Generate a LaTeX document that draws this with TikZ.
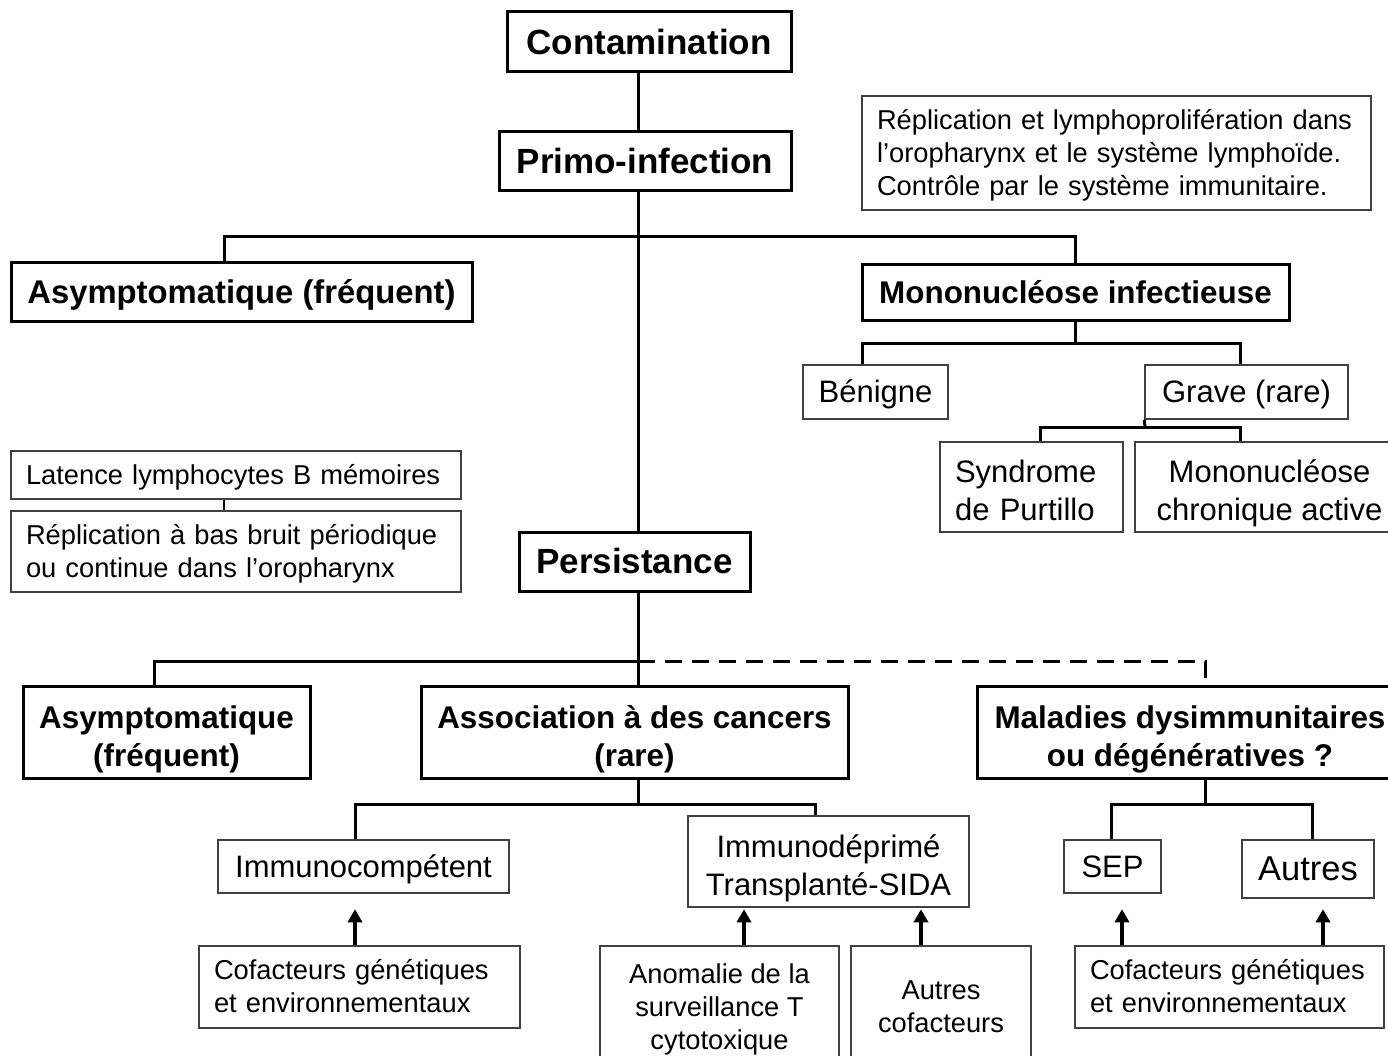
\documentclass[tikz,border=0pt]{standalone}
\usepackage{fontspec}
\setmainfont{Liberation Sans}
\usetikzlibrary{arrows.meta}
\newcommand\lst{\rule[-0.212em]{0pt}{1.117em}}
\newcommand\lbeg{\rule{0pt}{1.17em}}
\newcommand\lbegs{\rule{0pt}{1.14em}}
\begin{document}
\begin{tikzpicture}[x=1pt,y=-1pt,
  every node/.style={execute at begin node=\lst,execute at end node=\lst},
  boldbox/.style={draw=black,line width=3pt,inner sep=0pt,align=center},
  thinbox/.style={draw=black!75,line width=1.5pt,inner sep=0pt,align=center},
  leftbox/.style={thinbox,align=left,inner xsep=15pt},
  bigb/.style={font=\fontsize{35}{42}\selectfont\bfseries},
  medb/.style={font=\fontsize{31.4}{38}\selectfont\bfseries},
  rega/.style={font=\fontsize{31}{38}\selectfont},
  regb/.style={font=\fontsize{27.3}{33}\selectfont},
  regc/.style={font=\fontsize{34.5}{40}\selectfont},
  conn/.style={line width=3pt,draw=black},
  arr/.style={line width=4.5pt,-{Triangle[width=14pt,length=13pt]}}]
\clip (0,0) rectangle (1388,1056);
\fill[white] (0,0) rectangle (1388,1056);
% boxes
\node[boldbox,bigb,minimum width=284,minimum height=60] (cont) at (649,42) {Contamination};
\node[boldbox,bigb,minimum width=292,minimum height=59] (prim) at (645,161.5) {Primo-infection};
\node[leftbox,regb,text width=479,minimum width=509,minimum height=114] (repl1) at (1116.5,153) {Réplication et lymphoprolifération dans\\l’oropharynx et le système lymphoïde.\\Contrôle par le système immunitaire.};
\node[boldbox,medb,font=\fontsize{32.8}{38}\selectfont\bfseries,minimum width=461,minimum height=59] (asy1) at (241.5,292) {Asymptomatique (fréquent)};
\node[boldbox,medb,minimum width=427,minimum height=55] (mono) at (1075.5,292.5) {Mononucléose infectieuse};
\node[thinbox,rega,minimum width=145,minimum height=54] (ben) at (875.5,392) {Bénigne};
\node[thinbox,rega,minimum width=203,minimum height=54] (grave) at (1246.5,392) {Grave (rare)};
\node[leftbox,rega,text width=153,minimum width=183,minimum height=90] (purt) at (1031.5,487) {\lbeg Syndrome\\de Purtillo};
\node[thinbox,rega,minimum width=269,minimum height=90] (chron) at (1269.5,487) {\lbeg Mononucléose\\chronique active};
\node[leftbox,regb,text width=420,minimum width=450,minimum height=48] (lat) at (236,475) {Latence lymphocytes B mémoires};
\node[leftbox,regb,text width=420,minimum width=450,minimum height=81] (repl2) at (236,551.5) {Réplication à bas bruit périodique\\ou continue dans l’oropharynx};
\node[boldbox,bigb,minimum width=231,minimum height=59] (pers) at (634.5,561.5) {Persistance};
\node[boldbox,medb,minimum width=287,minimum height=92] (asy2) at (166.5,732) {\lbeg Asymptomatique\\(fréquent)};
\node[boldbox,medb,minimum width=427,minimum height=92] (assoc) at (634.5,732) {\lbeg Association à des cancers\\(rare)};
\node[boldbox,medb,minimum width=426,minimum height=92] (mal) at (1190,732) {\lbeg Maladies dysimmunitaires\\ou dégénératives ?};
\node[thinbox,rega,minimum width=291,minimum height=53] (immc) at (363.5,866.5) {Immunocompétent};
\node[thinbox,rega,minimum width=281,minimum height=91] (immd) at (828.5,861.5) {\lbeg Immunodéprimé\\Transplanté-SIDA};
\node[thinbox,rega,minimum width=97,minimum height=53] (sep) at (1112.5,866.5) {SEP};
\node[thinbox,regc,minimum width=132,minimum height=58] (aut) at (1308,869) {Autres};
\node[leftbox,regb,text width=291,minimum width=321,minimum height=82] (cof1) at (359.5,987) {Cofacteurs génétiques\\et environnementaux};
\node[thinbox,regb,minimum width=239,minimum height=115] (anom) at (719.5,1003.5) {\lbegs Anomalie de la\\surveillance T\\cytotoxique};
\node[thinbox,regb,minimum width=180,minimum height=115] (autc) at (941,1003.5) {\lbegs Autres\\cofacteurs};
\node[leftbox,regb,text width=279,minimum width=309,minimum height=82] (cof2) at (1229.5,987) {Cofacteurs génétiques\\et environnementaux};
% junctions
\coordinate (tx) at (638,0);
\coordinate (j1) at (638,237);
\coordinate (j2) at (1075,343);
\coordinate (j3) at (1145,427);
\coordinate (j4) at (638,661);
\coordinate (j5) at (638,804);
\coordinate (j6) at (1205,804);
% connectors
\draw[conn] (cont.south -| tx) -- (prim.north -| tx);
\draw[conn] (prim.south -| tx) -- (pers.north -| tx);
\draw[conn] ([xshift=-17.5]asy1.north) |- (j1) -| (mono.north);
\draw[conn] (mono.south -| j2) -- (j2);
\draw[conn] ([xshift=-13.5]ben.north) |- (j2) -| ([xshift=-6.5]grave.north);
\draw[conn] (grave.south west) -- (j3);
\draw[conn] ([xshift=8.5]purt.north) |- (j3) -| ([xshift=-29.5]chron.north);
\draw[line width=2pt] ([xshift=-12]lat.south) -- ([xshift=-12]repl2.north);
\draw[conn] (pers.south -| tx) -- (assoc.north -| tx);
\draw[conn] ([xshift=-12.5]asy2.north) |- (j4);
\draw[conn,dash pattern=on 17pt off 10pt] (j4) -| ([xshift=15]mal.north);
\draw[conn] (assoc.south -| tx) -- (j5);
\draw[conn] ([xshift=-8.5]immc.north) |- (j5) -| ([xshift=-13.5]immd.north);
\draw[conn] ([xshift=15]mal.south) -- (j6);
\draw[conn] ([xshift=-1.5]sep.north) |- (j6) -| ([xshift=4]aut.north);
% arrows
\draw[arr] ([xshift=-4.5]cof1.north) -- ++(0,-36);
\draw[arr] ([xshift=24.5]anom.north) -- ++(0,-36);
\draw[arr] ([xshift=-20]autc.north) -- ++(0,-36);
\draw[arr] ([xshift=-107.5]cof2.north) -- ++(0,-36);
\draw[arr] ([xshift=93.5]cof2.north) -- ++(0,-36);
\end{tikzpicture}
\end{document}
